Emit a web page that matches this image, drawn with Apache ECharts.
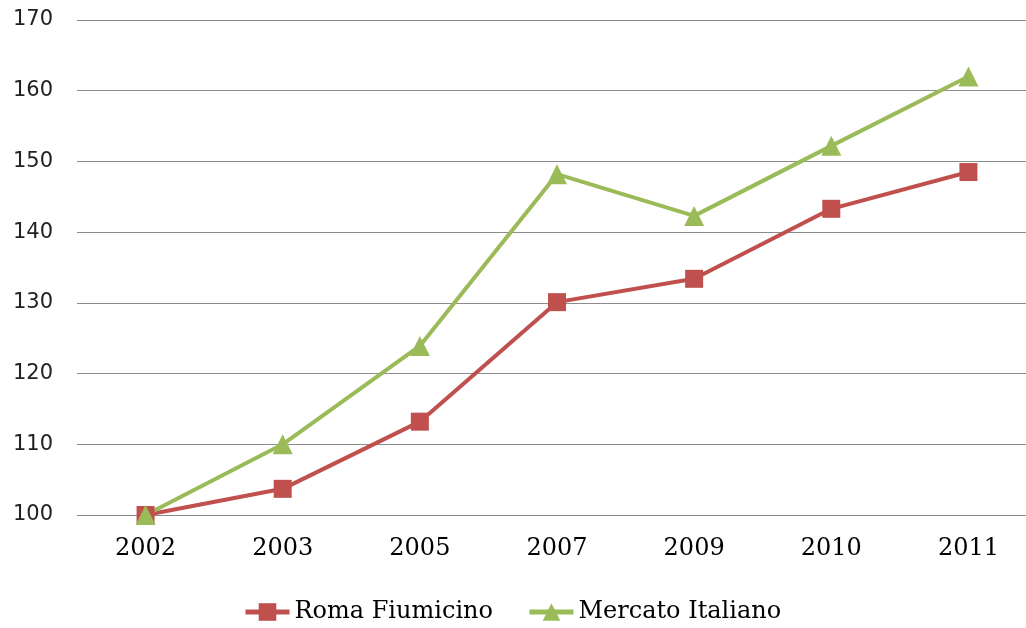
<!DOCTYPE html>
<html><head><meta charset="utf-8">
<script src="https://cdn.jsdelivr.net/npm/echarts@6/dist/echarts.min.js"></script>
<style>html,body{margin:0;padding:0;background:#fff;overflow:hidden}#c{width:1037px;height:628px}</style>
</head><body><div id="c"></div>
<script>
const categories = ['2002','2003','2005','2007','2009','2010','2011'];
const romaFiumicino = [100, 103.7, 113.2, 130.1, 133.4, 143.3, 148.5];
const mercatoItaliano = [100, 110.0, 123.9, 148.2, 142.3, 152.2, 162.0];
const yTicks = {min: 100, max: 170, interval: 10};

const serif = '"DejaVu Serif", "Liberation Serif", serif';
const sans = '"DejaVu Sans", sans-serif';
const chart = echarts.init(document.getElementById('c'));
chart.setOption({
  animation: false,
  backgroundColor: '#fff',
  grid: {left: 77, right: 0, top: 20, bottom: 113, containLabel: false},
  xAxis: {
    type: 'category', data: categories, boundaryGap: true,
    axisLine: {show: false}, axisTick: {show: false},
    axisLabel: {fontFamily: serif, fontSize: 24, color: '#000', margin: 22}
  },
  yAxis: {
    type: 'value', min: yTicks.min, max: yTicks.max, interval: yTicks.interval,
    axisLine: {show: false}, axisTick: {show: false},
    splitLine: {lineStyle: {color: '#8c8c8c', width: 1}},
    axisLabel: {fontFamily: sans, fontSize: 21, color: '#222', margin: 24}
  },
  legend: {
    bottom: 4, left: 243, padding: 0, itemWidth: 44, itemHeight: 22, itemGap: 34,
    textStyle: {fontFamily: serif, fontSize: 24, color: '#000'},
    lineStyle: {width: 5},
    data: ['Roma Fiumicino', 'Mercato Italiano']
  },
  series: [
    {name: 'Roma Fiumicino', type: 'line', data: romaFiumicino,
     symbol: 'rect', symbolSize: 18,
     lineStyle: {color: '#C0504D', width: 4}, itemStyle: {color: '#C0504D'}},
    {name: 'Mercato Italiano', type: 'line', data: mercatoItaliano,
     symbol: 'triangle', symbolSize: 20,
     lineStyle: {color: '#9BBB59', width: 4}, itemStyle: {color: '#9BBB59'}}
  ]
});
</script></body></html>
